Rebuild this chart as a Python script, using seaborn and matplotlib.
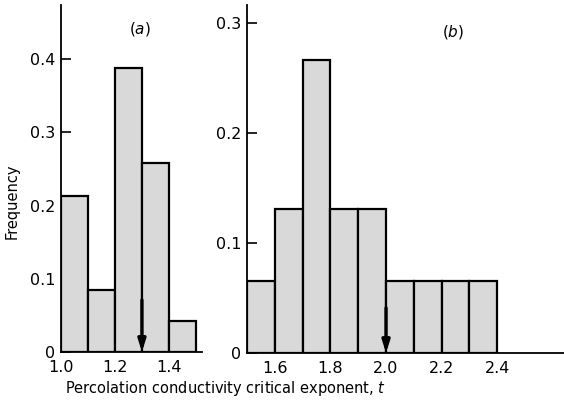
import matplotlib
matplotlib.use("Agg")
import matplotlib.pyplot as plt
import seaborn as sns

# panel (a): bins of t and relative frequency
a_edges = [1.0, 1.1, 1.2, 1.3, 1.4, 1.5]
a_centers = [1.05, 1.15, 1.25, 1.35, 1.45]
a_freq = [0.213, 0.085, 0.388, 0.258, 0.042]
a_arrow_t = 1.3
a_ticks = [1.0, 1.2, 1.4]
a_yticks = [0, 0.1, 0.2, 0.3, 0.4]

# panel (b)
b_edges = [1.5, 1.6, 1.7, 1.8, 1.9, 2.0, 2.1, 2.2, 2.3, 2.4]
b_centers = [1.55, 1.65, 1.75, 1.85, 1.95, 2.05, 2.15, 2.25, 2.35]
b_freq = [0.065, 0.131, 0.266, 0.131, 0.131, 0.065, 0.065, 0.065, 0.065]
b_arrow_t = 2.0
b_ticks = [1.6, 1.8, 2.0, 2.2, 2.4]
b_yticks = [0, 0.1, 0.2, 0.3]

sns.set_style("ticks")
plt.rcParams["font.family"] = ["DejaVu Sans"]
plt.rcParams.update({"text.color": "black", "xtick.color": "black", "ytick.color": "black",
                     "axes.edgecolor": "black"})

FILL = "#d9d9d9"
fig = plt.figure(figsize=(5.64, 4.03), dpi=100)
ax_a = fig.add_axes([0.108, 0.1266, 0.25, 0.861])
ax_b = fig.add_axes([0.438, 0.124, 0.562, 0.8635])


def draw(ax, centers, freq, edges, arrow_t, arrow_top, xticks, yticks, xlim, ylim, tag, tag_xy):
    sns.histplot(x=centers, weights=freq, bins=edges, stat="count", color=FILL,
                 edgecolor="black", linewidth=1.6, alpha=1, ax=ax)
    ax.annotate("", xy=(arrow_t, 0), xytext=(arrow_t, arrow_top),
                arrowprops=dict(arrowstyle="-|>,head_length=0.7,head_width=0.22",
                                color="black", lw=2.4, shrinkA=0, shrinkB=0))
    ax.set_xlim(*xlim)
    ax.set_ylim(*ylim)
    ax.set_xticks(xticks)
    ax.set_xticklabels([f"{t:.1f}" for t in xticks])
    ax.set_yticks(yticks)
    ax.set_yticklabels(["0" if v == 0 else f"{v:.1f}" for v in yticks])
    ax.tick_params(axis="x", length=0, pad=6, labelsize=11.5)
    ax.tick_params(axis="y", direction="in", length=7, width=1.2, pad=4, labelsize=11.5)
    ax.set_xlabel("")
    ax.set_ylabel("")
    for s in ("top", "right"):
        ax.spines[s].set_visible(False)
    for s in ("left", "bottom"):
        ax.spines[s].set_linewidth(1.3)
    ax.text(*tag_xy, tag, transform=ax.transAxes, fontsize=11, ha="center", va="center")


draw(ax_a, a_centers, a_freq, a_edges, a_arrow_t, 0.071, a_ticks, a_yticks,
     (1.0, 1.522), (0, 0.474), "($a$)", (0.56, 0.93))
draw(ax_b, b_centers, b_freq, b_edges, b_arrow_t, 0.041, b_ticks, b_yticks,
     (1.5, 2.64), (0, 0.316), "($b$)", (0.65, 0.922))

fig.text(0.022, 0.5, "Frequency", rotation=90, ha="center", va="center", fontsize=10.5)
fig.text(0.115, 0.035, "Percolation conductivity critical exponent, $t$",
         ha="left", va="center", fontsize=10.5)

fig.savefig("out.png", dpi=100)
